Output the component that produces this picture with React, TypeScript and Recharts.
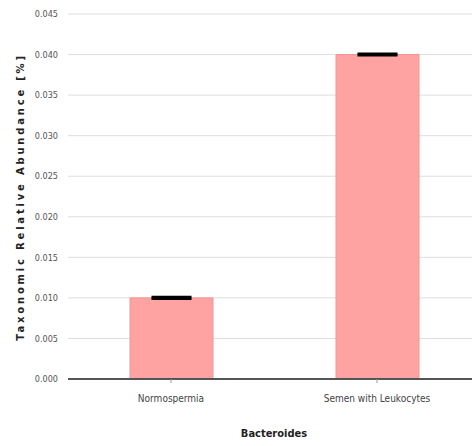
import { Bar, BarChart, CartesianGrid, ErrorBar, Label, XAxis, YAxis } from 'recharts';

const groups = ['Normospermia', 'Semen with Leukocytes'];
const abundance = [0.01, 0.04];
const errors = [0.0001, 0.0001];
const yTicks = [0, 0.005, 0.01, 0.015, 0.02, 0.025, 0.03, 0.035, 0.04, 0.045];

const data = groups.map((g, i) => ({ group: g, value: abundance[i], err: errors[i] }));

const tickFont = '"Liberation Sans Narrow", "DejaVu Sans Condensed", sans-serif';

export default function App() {
  return (
    <div
      style={{
        position: 'fixed',
        left: 0,
        top: 0,
        width: 472,
        height: 446,
        overflow: 'hidden',
        background: '#fff',
      }}
    >
      <BarChart width={480} height={446} data={data} margin={{ top: 14, right: 0, left: 0, bottom: 0 }}>
        <CartesianGrid vertical={false} stroke="#dedede" />
        <XAxis
          dataKey="group"
          height={67}
          stroke="#555"
          strokeWidth={2}
          tickSize={4}
          tickMargin={12}
          tickLine={{ stroke: '#999', strokeWidth: 1 }}
          tick={{ fontSize: 10, fill: '#444', fontFamily: tickFont }}
        >
          <Label
            value="Bacteroides"
            position="insideBottom"
            offset={9}
            style={{ fontSize: 11, fill: '#222', fontFamily: tickFont, fontWeight: 'bold' }}
          />
        </XAxis>
        <YAxis
          width={68}
          domain={[0, 0.045]}
          ticks={yTicks}
          axisLine={false}
          tickLine={false}
          tickMargin={4}
          tickFormatter={(v: number) => v.toFixed(3)}
          tick={{ fontSize: 9, fill: '#555', fontFamily: tickFont }}
        >
          <Label
            content={() => (
              <text
                x={20}
                y={197}
                transform="rotate(-90 20 197)"
                textAnchor="middle"
                dominantBaseline="central"
                style={{
                  fontSize: 10,
                  fontWeight: 'bold',
                  fill: '#222',
                  fontFamily: '"DejaVu Sans", sans-serif',
                  letterSpacing: 2.8,
                }}
              >
                Taxonomic Relative Abundance [%]
              </text>
            )}
          />
        </YAxis>
        <Bar dataKey="value" fill="#ffa2a2" stroke="#f09494" strokeWidth={1} barSize={83} isAnimationActive={false}>
          <ErrorBar dataKey="err" width={20} stroke="#000" strokeWidth={2.5} isAnimationActive={false} />
        </Bar>
      </BarChart>
    </div>
  );
}
